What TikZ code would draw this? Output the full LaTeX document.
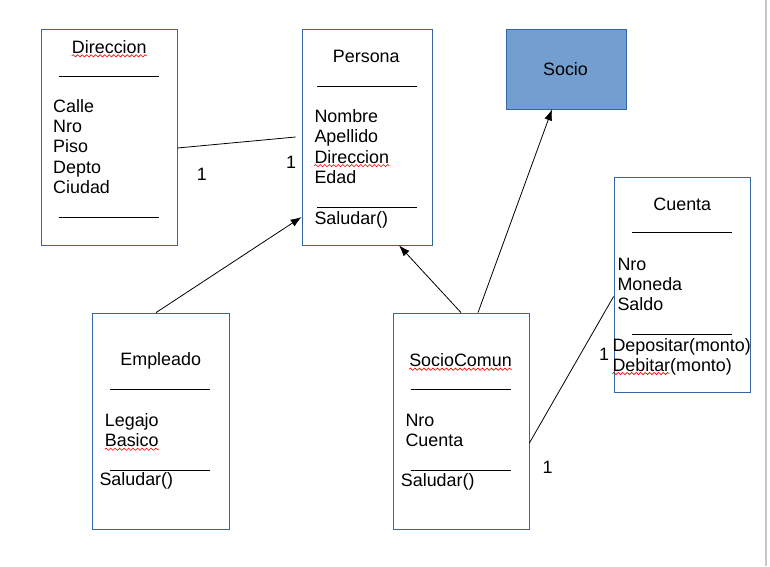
\documentclass[tikz,border=0pt]{standalone}
\usepackage{fontspec}
\setmainfont{Liberation Sans}
\usetikzlibrary{arrows.meta,calc,decorations.pathmorphing}
\definecolor{boxline}{HTML}{3465A4}
\definecolor{sociofill}{HTML}{729FCF}
\begin{document}
\begin{tikzpicture}[x=1pt,y=-1pt,font=\fontsize{17.9}{20}\selectfont,
  umlbox/.style={draw=boxline,line width=0.8pt,inner sep=0pt,rectangle},
  title/.style={anchor=base,inner sep=0pt},
  attr/.style={anchor=base west,inner sep=0pt},
  sep/.style={line width=0.8pt},
  conn/.style={line width=0.8pt},
  arr/.style={conn,-{Latex[length=11pt,width=8pt]}},
  spell/.style={red,line width=0.6pt,decorate,decoration={snake,amplitude=1.1pt,segment length=4.5pt}},
  mult/.style={anchor=base west,inner sep=0pt}]
\useasboundingbox (0,0) rectangle (770,566);
\fill[white] (0,0) rectangle (770,566);
\draw[gray!45,line width=2pt] (766,0) -- (766,566);

% boxes
\node[umlbox,minimum width=136pt,minimum height=216pt] (dir) at (109,137) {};
\node[umlbox,minimum width=130pt,minimum height=216pt] (per) at (367,137) {};
\node[umlbox,fill=sociofill,minimum width=120pt,minimum height=80pt] (soc) at (566,69) {};
\node[umlbox,minimum width=136pt,minimum height=215pt] (cta) at (682,284.5) {};
\node[umlbox,minimum width=136pt,minimum height=216pt] (sc) at (461,421) {};
\node[umlbox,minimum width=137pt,minimum height=216pt] (emp) at (160.5,421) {};

% Direccion
\node[title] (dirt) at (109.3,53.3) {Direccion};
\draw[sep] (59,76.7) -- (159,76.7);
\foreach \t [count=\i] in {Calle,Nro,Piso,Depto,Ciudad}
  \node[attr] (dira\i) at (53,{112.7+20.1*(\i-1)}) {\t};
\draw[sep] (59,217) -- (159,217);

% Persona
\node[title] (pert) at (366.3,62.7) {Persona};
\draw[sep] (317,86.7) -- (417,86.7);
\foreach \t [count=\i] in {Nombre,Apellido,Direccion,Edad}
  \node[attr] (pera\i) at (314.3,{122.7+20.2*(\i-1)}) {\t};
\draw[sep] (317,207) -- (417,207);
\node[attr] (perm) at (314.3,224) {Saludar()};

% Socio
\node[title] (soct) at (565.5,75) {Socio};

% Cuenta
\node[title] (ctat) at (682.3,210) {Cuenta};
\draw[sep] (632,232.7) -- (732,232.7);
\foreach \t [count=\i] in {Nro,Moneda,Saldo}
  \node[attr] (ctaa\i) at (617.3,{270.7+20*(\i-1)}) {\t};
\draw[sep] (632,334) -- (732,334);
\node[attr] (ctam1) at (612.3,351) {Depositar(monto)};
\node[attr] (ctam2) at (612.3,371) {Debitar(monto)};

% SocioComun
\node[title] (sct) at (460.5,366.7) {SocioComun};
\draw[sep] (411,389) -- (511,389);
\node[attr] (sca1) at (405.3,426.7) {Nro};
\node[attr] (sca2) at (405.3,446.7) {Cuenta};
\draw[sep] (411,470.7) -- (511,470.7);
\node[attr] (scm) at (400.7,486.7) {Saludar()};

% Empleado
\node[title] (empt) at (160.7,365) {Empleado};
\draw[sep] (110,389) -- (210,389);
\node[attr] (empa1) at (104.7,426.7) {Legajo};
\node[attr] (empa2) at (104.7,446.7) {Basico};
\draw[sep] (110,470.7) -- (210,470.7);
\node[attr] (empm) at (99.3,485.7) {Saludar()};

% spell-check squiggles
\draw[spell] ($(dirt.base west)+(0,2.5)$) -- ($(dirt.base east)+(0,2.5)$);
\draw[spell] ($(pera3.base west)+(0,2.5)$) -- ($(pera3.base east)+(0,2.5)$);
\draw[spell] ($(sct.base west)+(0,2.5)$) -- ($(sct.base east)+(0,2.5)$);
\draw[spell] ($(empa2.base west)+(0,2.5)$) -- ($(empa2.base east)+(0,2.5)$);
\path (ctam2.base west) ++(0,2.5) coordinate (dbs) ++(57,0) coordinate (dbe);
\draw[spell] (dbs) -- (dbe);

% connectors
\draw[conn] ($(dir.east)+(0,11)$) -- ($(per.west)+(-6,0)$);
\draw[arr] ($(emp.north)+(-4.5,0)$) -- ($(per.west)+(0,80)$);
\draw[arr] (sc.north) -- ($(per.south)+(32,0)$);
\draw[arr] ($(sc.north)+(17,0)$) -- ($(soc.south)+(-14,0)$);
\draw[conn] ($(sc.east)+(0,22)$) -- ($(cta.west)+(0,12)$);

% multiplicities
\node[mult] (m1) at (196.7,180) {1};
\node[mult] (m2) at (286,168.3) {1};
\node[mult] (m3) at (542.3,473.3) {1};
\node[mult] (m4) at (599,360.7) {1};
\end{tikzpicture}
\end{document}
